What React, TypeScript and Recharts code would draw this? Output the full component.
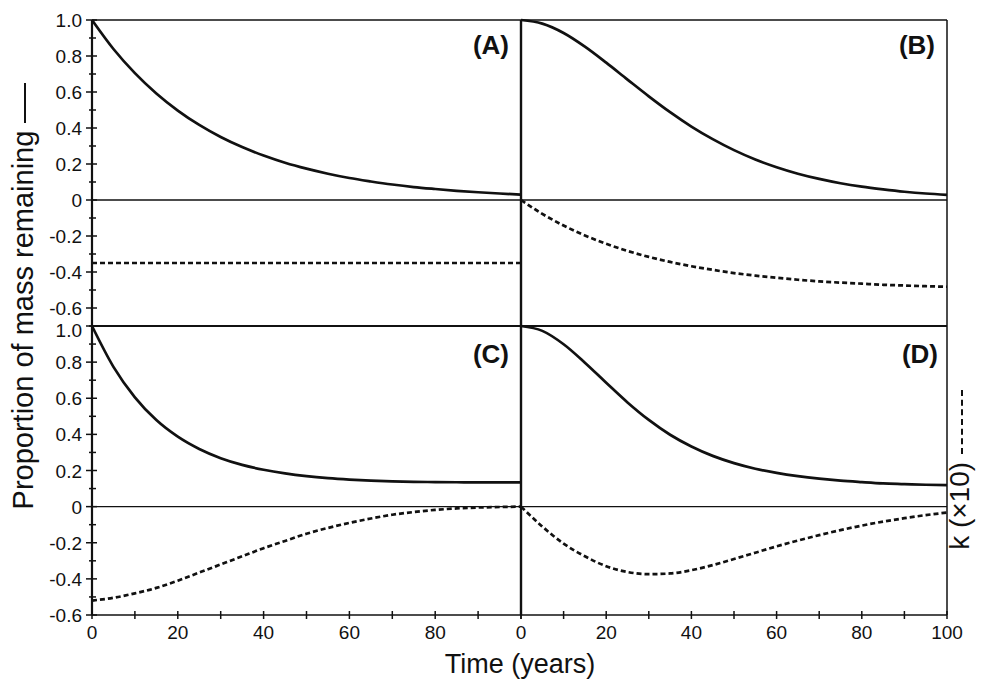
import React from 'react';
import { LineChart, Line, XAxis, YAxis, ReferenceLine } from 'recharts';

// time axis (years), sampled every 5 years
const YEARS = [0, 5, 10, 15, 20, 25, 30, 35, 40, 45, 50, 55, 60, 65, 70, 75, 80, 85, 90, 95, 100];

// proportion of mass remaining (solid) and k x10 (dashed)
const A_MASS = [1.0, 0.839, 0.705, 0.592, 0.497, 0.417, 0.35, 0.294, 0.247, 0.207, 0.174, 0.146, 0.122, 0.103, 0.086, 0.072, 0.061, 0.051, 0.043, 0.036, 0.03];
const A_K = [-0.35, -0.35, -0.35, -0.35, -0.35, -0.35, -0.35, -0.35, -0.35, -0.35, -0.35, -0.35, -0.35, -0.35, -0.35, -0.35, -0.35, -0.35, -0.35, -0.35, -0.35];

const B_MASS = [1.0, 0.98, 0.928, 0.852, 0.763, 0.669, 0.576, 0.488, 0.408, 0.338, 0.277, 0.225, 0.182, 0.146, 0.117, 0.093, 0.074, 0.059, 0.046, 0.036, 0.029];
const B_K = [0, -0.077, -0.142, -0.197, -0.243, -0.283, -0.316, -0.344, -0.368, -0.388, -0.406, -0.42, -0.432, -0.443, -0.452, -0.459, -0.465, -0.471, -0.475, -0.479, -0.482];

const C_MASS = [1.0, 0.774, 0.605, 0.479, 0.387, 0.319, 0.268, 0.231, 0.204, 0.184, 0.169, 0.158, 0.15, 0.144, 0.14, 0.137, 0.136, 0.135, 0.134, 0.134, 0.134];
const C_K = [-0.52, -0.505, -0.48, -0.45, -0.41, -0.365, -0.32, -0.275, -0.23, -0.19, -0.15, -0.118, -0.09, -0.066, -0.045, -0.03, -0.018, -0.01, -0.005, -0.002, 0];

const D_MASS = [1.0, 0.973, 0.899, 0.797, 0.686, 0.577, 0.48, 0.398, 0.333, 0.281, 0.241, 0.21, 0.187, 0.169, 0.155, 0.144, 0.136, 0.129, 0.125, 0.121, 0.119];
const D_K = [0, -0.11, -0.205, -0.275, -0.33, -0.362, -0.374, -0.37, -0.352, -0.324, -0.29, -0.255, -0.22, -0.188, -0.158, -0.13, -0.105, -0.083, -0.064, -0.047, -0.033];

// ticks
const X_TICKS = [0, 10, 20, 30, 40, 50, 60, 70, 80, 90, 100];
const X_LABELS_LEFT = [0, 20, 40, 60, 80];
const X_LABELS_RIGHT = [0, 20, 40, 60, 80, 100];
const Y_TICKS_TOP = [-0.7, -0.6, -0.5, -0.4, -0.3, -0.2, -0.1, 0, 0.1, 0.2, 0.3, 0.4, 0.5, 0.6, 0.7, 0.8, 0.9, 1.0];
const Y_TICKS_BOTTOM = [-0.6, -0.5, -0.4, -0.3, -0.2, -0.1, 0, 0.1, 0.2, 0.3, 0.4, 0.5, 0.6, 0.7, 0.8, 0.9, 1.0];

const FONT = '"Liberation Sans", Arial, Helvetica, sans-serif';
const INK = '#111';

const rows = (mass: number[], k: number[]) => YEARS.map((t, i) => ({ t, mass: mass[i], k: k[i] }));

const fmtY = (v: number) => (Math.abs(v) < 1e-9 ? '0' : v.toFixed(1));

const makeYTick = (shiftTop: boolean) => (props: any) => {
  const { x, y, payload } = props;
  const v = payload.value;
  const major = Math.round(v * 10) % 2 === 0;
  const dy = shiftTop && v === 1 ? 11 : 7;
  return (
    <g>
      <line x1={x - (major ? 6 : 3)} x2={x + (major ? 5 : 4)} y1={y} y2={y} stroke={INK} strokeWidth={1.5} />
      {major && (
        <text x={x - 10} y={y} dy={dy} textAnchor="end" fontSize={19} fontFamily={FONT} fill={INK}>
          {fmtY(v)}
        </text>
      )}
    </g>
  );
};

const makeXTick = (labels: number[]) => (props: any) => {
  const { x, y, payload } = props;
  const v = payload.value;
  return (
    <g>
      <line x1={x} x2={x} y1={y - 4} y2={y + 4} stroke={INK} strokeWidth={1.5} />
      {labels.includes(v) && (
        <text x={x} y={y + 24} textAnchor="middle" fontSize={19} fontFamily={FONT} fill={INK}>
          {v}
        </text>
      )}
    </g>
  );
};

interface PanelProps {
  mass: number[];
  k: number[];
  side: 'left' | 'right';
  row: 'top' | 'bottom';
}

const Panel: React.FC<PanelProps> = ({ mass, k, side, row }) => {
  const isLeft = side === 'left';
  const isTop = row === 'top';
  const width = isLeft ? 531 : 478;
  const height = isTop ? 336 : 365;
  const margin = {
    top: isTop ? 20 : 10,
    right: isLeft ? 10 : 42,
    left: isLeft ? 0 : 10,
    bottom: isTop ? 10 : 26,
  };
  const domain = isTop ? [-0.7, 1] : [-0.6, 1];
  return (
    <div style={{ position: 'absolute', left: isLeft ? 0 : 511, top: isTop ? 0 : 316 }}>
      <LineChart width={width} height={height} data={rows(mass, k)} margin={margin}>
        <XAxis
          dataKey="t"
          type="number"
          domain={[0, 100]}
          ticks={X_TICKS}
          interval={0}
          hide={isTop}
          height={40}
          tickSize={0}
          tickMargin={0}
          axisLine={{ stroke: INK, strokeWidth: 1.5 }}
          tickLine={false}
          tick={makeXTick(isLeft ? X_LABELS_LEFT : X_LABELS_RIGHT)}
        />
        <YAxis
          type="number"
          domain={domain}
          ticks={isTop ? Y_TICKS_TOP : Y_TICKS_BOTTOM}
          interval={0}
          hide={!isLeft}
          width={92}
          tickSize={0}
          tickMargin={0}
          axisLine={{ stroke: INK, strokeWidth: 2.2 }}
          tickLine={false}
          tick={makeYTick(!isTop)}
        />
        {/* frame and zero line */}
        <ReferenceLine y={0} stroke={INK} strokeWidth={1.3} />
        {isTop && <ReferenceLine y={1} stroke={INK} strokeWidth={1.5} />}
        {!isTop && <ReferenceLine y={1} stroke={INK} strokeWidth={2.2} />}
        {!isLeft && <ReferenceLine x={0} stroke={INK} strokeWidth={2.4} />}
        {!isLeft && <ReferenceLine x={100} stroke={INK} strokeWidth={1.5} />}
        <Line type="monotone" dataKey="mass" stroke={INK} strokeWidth={2.7} dot={false} isAnimationActive={false} />
        <Line
          type="monotone"
          dataKey="k"
          stroke={INK}
          strokeWidth={2.7}
          strokeDasharray="5 3"
          dot={false}
          isAnimationActive={false}
        />
      </LineChart>
    </div>
  );
};

const panelLabel = (text: string, right: number, top: number) => (
  <div
    style={{
      position: 'absolute',
      right,
      top,
      fontFamily: FONT,
      fontWeight: 'bold',
      fontSize: 26,
      lineHeight: 1,
      color: INK,
    }}
  >
    {text}
  </div>
);

export default function App() {
  return (
    <div
      style={{
        position: 'absolute',
        left: 0,
        top: 0,
        width: 989,
        height: 681,
        background: '#fff',
        overflow: 'hidden',
      }}
    >
      <Panel mass={A_MASS} k={A_K} side="left" row="top" />
      <Panel mass={B_MASS} k={B_K} side="right" row="top" />
      <Panel mass={C_MASS} k={C_K} side="left" row="bottom" />
      <Panel mass={D_MASS} k={D_K} side="right" row="bottom" />

      {panelLabel('(A)', 480, 32)}
      {panelLabel('(B)', 54, 32)}
      {panelLabel('(C)', 480, 341)}
      {panelLabel('(D)', 51, 341)}

      {/* y axis title */}
      <div
        style={{
          position: 'absolute',
          left: 23 - 240,
          top: 296 - 17,
          width: 480,
          height: 34,
          transform: 'rotate(-90deg)',
          transformOrigin: 'center',
          fontFamily: FONT,
          fontSize: 29,
          lineHeight: '34px',
          color: INK,
          textAlign: 'center',
          whiteSpace: 'nowrap',
        }}
      >
        Proportion of mass remaining{' '}
        <span style={{ display: 'inline-block', width: 40, borderTop: `2px solid ${INK}`, verticalAlign: 'middle' }} />
      </div>

      {/* right axis title */}
      <div
        style={{
          position: 'absolute',
          left: 960 - 95,
          top: 470 - 16,
          width: 190,
          height: 32,
          transform: 'rotate(-90deg)',
          transformOrigin: 'center',
          fontFamily: FONT,
          fontSize: 28,
          lineHeight: '32px',
          color: INK,
          textAlign: 'center',
          whiteSpace: 'nowrap',
        }}
      >
        k (×10){' '}
        <span style={{ display: 'inline-block', width: 64, borderTop: `2px dashed ${INK}`, verticalAlign: 'middle' }} />
      </div>

      {/* x axis title */}
      <div
        style={{
          position: 'absolute',
          left: 520 - 100,
          top: 651,
          width: 200,
          fontFamily: FONT,
          fontSize: 27,
          lineHeight: 1,
          color: INK,
          textAlign: 'center',
        }}
      >
        Time (years)
      </div>
    </div>
  );
}
